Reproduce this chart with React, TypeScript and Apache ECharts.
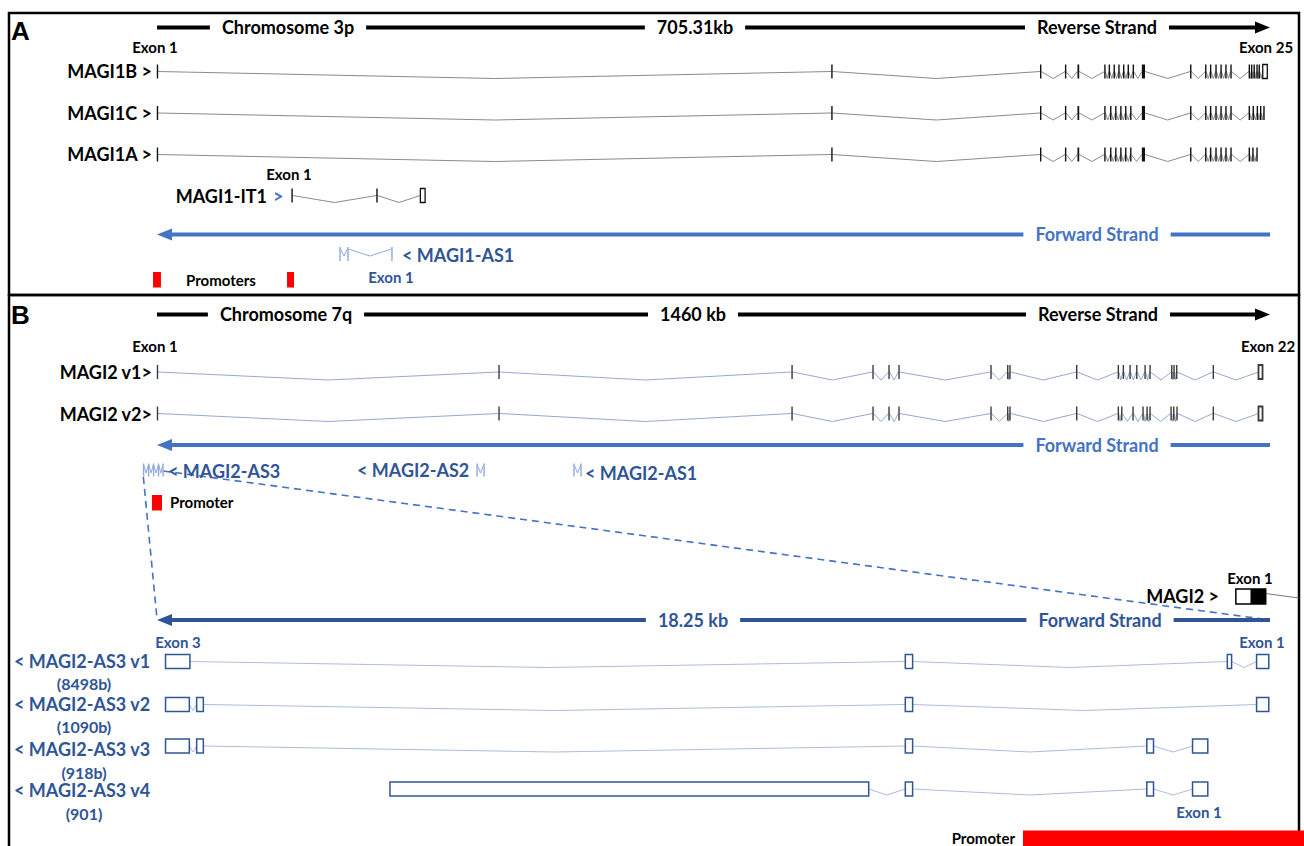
import React, { useEffect, useRef } from "react";
import * as echarts from "echarts";

// ================= DATA =================
// Panel A: Chromosome 3p window (positions in kb from window start)
const chromA = "Chromosome 3p";
const spanA = 705.31;
const spanALabel = "705.31kb";

const magi1bExons: number[][] = [
  [0, 0.6], [427.4, 428.0], [559.7, 560.3], [575.5, 576.1], [583.3, 584.4],
  [600.4, 601.0], [603.2, 603.8], [606.3, 606.9], [609.3, 609.9], [612.3, 612.9],
  [615.2, 615.8], [618.4, 619.0], [624.1, 626.1], [654.8, 655.4], [664.3, 664.9],
  [667.4, 668.0], [670.8, 671.4], [674.0, 674.6], [677.1, 677.7], [680.3, 680.9],
  [691.9, 692.5], [693.4, 694.0], [695.0, 695.6], [696.8, 697.4], [698.2, 698.8],
  [700.7, 703.6],
];
const magi1cExons: number[][] = [
  [0, 0.6], [427.4, 428.0], [559.7, 560.3], [575.5, 576.1], [583.3, 584.4],
  [600.4, 601.0], [604.1, 604.7], [607.3, 607.9], [610.5, 611.1], [613.6, 614.2],
  [616.8, 617.4], [624.1, 626.1], [654.8, 655.4], [664.3, 664.9],
  [667.4, 668.0], [670.8, 671.4], [674.0, 674.6], [677.1, 677.7], [680.3, 680.9],
  [691.9, 692.5], [694.4, 695.0], [697.0, 697.6], [699.1, 699.7], [701.2, 701.8],
];
const magi1aExons: number[][] = [
  [0, 0.6], [427.4, 428.0], [559.7, 560.3], [575.5, 576.1], [583.3, 584.4],
  [600.4, 601.0], [604.1, 604.7], [607.3, 607.9], [610.5, 611.1], [613.6, 614.2],
  [616.8, 617.4], [624.1, 626.1], [654.8, 655.4], [664.3, 664.9],
  [667.4, 668.0], [670.8, 671.4], [674.0, 674.6], [677.1, 677.7], [680.3, 680.9],
  [691.9, 692.5], [694.2, 694.8], [696.8, 697.4],
];
const magi1it1Exons: number[][] = [[85.3, 85.9], [139.1, 139.7], [166.9, 169.9]];
const magi1as1Exons: number[][] = [[115.7, 116.3], [120.7, 121.3], [148.6, 149.2]];
const promotersA: number[][] = [[-2.5, 2.5], [82.4, 86.8]];

// Panel B: Chromosome 7q window (kb)
const chromB = "Chromosome 7q";
const spanB = 1460;
const spanBLabel = "1460 kb";

const magi2v1Exons: number[][] = [
  [0, 1.3], [448, 449.3], [832.4, 833.7], [938.6, 939.9], [959.6, 960.9], [972.7, 974],
  [1093.4, 1094.7], [1115.3, 1116.6], [1118.3, 1119.6], [1205.8, 1207.1],
  [1260.4, 1261.7], [1267, 1268.3], [1275.8, 1277.1], [1284.6, 1285.9], [1295.5, 1296.8],
  [1302, 1303.3], [1330.5, 1331.8], [1333.5, 1334.8], [1337, 1338.3], [1385, 1386.3],
  [1444.9, 1450.2],
];
const magi2v2Exons: number[][] = [
  [0, 1.3], [448, 449.3], [832.4, 833.7], [938.6, 939.9], [959.6, 960.9], [972.7, 974],
  [1093.4, 1094.7], [1115.3, 1116.6], [1118.3, 1119.6], [1205.8, 1207.1],
  [1260.4, 1261.7], [1264.9, 1266.2], [1279.7, 1281], [1292.8, 1294.1], [1298.1, 1299.4],
  [1302, 1303.3], [1329.6, 1330.9], [1333.1, 1334.4], [1337.4, 1338.7], [1385, 1386.3],
  [1444.9, 1450.2],
];
const magi2as3Exons: number[][] = [[-17.9, -17.3], [-11.3, -10.7], [-4.8, -4.2], [1.7, 2.3], [7.6, 8.2]];
const magi2as2Exons: number[][] = [[419.5, 420.1], [428.7, 429.3]];
const magi2as1Exons: number[][] = [[546.7, 547.3], [555.9, 556.5]];
const promotersB: number[][] = [[-6.6, 6.6]];

// Zoomed MAGI2-AS3 locus (kb)
const spanZ = 18.25;
const spanZLabel = "18.25 kb";
const as3v1Exons: number[][] = [[0.14, 0.54], [12.27, 12.39], [17.55, 17.62], [18.03, 18.23]];
const as3v2Exons: number[][] = [[0.14, 0.53], [0.65, 0.76], [12.27, 12.39], [18.03, 18.23]];
const as3v3Exons: number[][] = [[0.14, 0.53], [0.65, 0.76], [12.27, 12.39], [16.23, 16.34], [16.98, 17.23]];
const as3v4Exons: number[][] = [[3.82, 11.67], [12.27, 12.39], [16.23, 16.34], [16.98, 17.23]];
const as3Names = ["< MAGI2-AS3 v1", "< MAGI2-AS3 v2", "< MAGI2-AS3 v3", "< MAGI2-AS3 v4"];
const as3Lengths = ["(8498b)", "(1090b)", "(918b)", "(901)"];
const magi2Exon1Utr = [17.69, 17.93];
const magi2Exon1Cds = [17.93, 18.18];
const magi2IntronTo = 18.72;
const promotersZ: number[][] = [[14.2, 18.85]];

// ================= STYLE / LAYOUT =================
const BLUE = "#4472C4";
const DBLUE = "#2F5597";
const LBLUE = "#8FAADC";
const RED = "#FF0000";
const FONT = "Lato";

type Sty = { exon: string; intron: string; h: number; dip: number; base: number; outline?: boolean; lw?: number };
const STY: Record<string, Sty> = {
  a: { exon: "#111", intron: "#8a8a8a", h: 14, dip: 7, base: 0 },
  aas: { exon: LBLUE, intron: LBLUE, h: 14, dip: 7, base: -5 },
  b: { exon: "#3a3a3a", intron: "#97A8CC", h: 14, dip: 8, base: 0, lw: 1.8 },
  bas: { exon: LBLUE, intron: LBLUE, h: 13, dip: 8, base: -5 },
  z: { exon: DBLUE, intron: "#AEBCD9", h: 14, dip: 6, base: 0, outline: true, lw: 1.5 },
};

const tracksA = [
  { exons: magi1bExons, y: 71.5, st: "a" },
  { exons: magi1cExons, y: 113, st: "a" },
  { exons: magi1aExons, y: 154.5, st: "a" },
  { exons: magi1it1Exons, y: 195.5, st: "a" },
  { exons: magi1as1Exons, y: 254, st: "aas" },
];
const tracksB = [
  { exons: magi2v1Exons, y: 372, st: "b" },
  { exons: magi2v2Exons, y: 413.5, st: "b" },
  { exons: magi2as3Exons, y: 470, st: "bas" },
  { exons: magi2as2Exons, y: 470, st: "bas" },
  { exons: magi2as1Exons, y: 470, st: "bas" },
];
const zRows = [661.5, 704.5, 746, 789];
const tracksZ = [as3v1Exons, as3v2Exons, as3v3Exons, as3v4Exons].map((exons, i) => ({ exons, y: zRows[i], st: "z" }));

function drawGene(api: any, exons: number[][], y: number, st: Sty) {
  const children: any[] = [];
  const p = (v: number) => api.coord([v, y]);
  for (let i = 0; i < exons.length - 1; i++) {
    const a = p(exons[i][1]);
    const b = p(exons[i + 1][0]);
    const by = a[1] + st.base;
    children.push({
      type: "polyline",
      shape: { points: [[a[0], by], [(a[0] + b[0]) / 2, by + st.dip], [b[0], by]] },
      style: { stroke: st.intron, lineWidth: 1, fill: "none" },
    });
  }
  for (const [s, e] of exons) {
    const a = p(s);
    const b = p(e);
    const w = b[0] - a[0];
    if (st.outline || w >= 4) {
      children.push({
        type: "rect",
        shape: { x: a[0], y: a[1] - st.h / 2, width: Math.max(w, 3), height: st.h },
        style: { fill: "#fff", stroke: st.exon, lineWidth: st.lw ?? 1.3 },
      });
    } else {
      const ww = Math.max(w, 1.4);
      children.push({
        type: "rect",
        shape: { x: a[0] - (ww - w) / 2, y: a[1] - st.h / 2, width: ww, height: st.h },
        style: { fill: st.exon },
      });
    }
  }
  return children;
}

function geneSeries(axis: number, tracks: { exons: number[][]; y: number; st: string }[]) {
  return {
    type: "custom",
    xAxisIndex: axis,
    yAxisIndex: axis,
    clip: false,
    silent: true,
    z: 3,
    data: tracks.map((t) => [t.exons[0][0], t.y]),
    renderItem: (params: any, api: any) => {
      const t = tracks[params.dataIndex];
      return { type: "group", children: drawGene(api, t.exons, t.y, STY[t.st]) };
    },
  };
}

// bar with arrow: dir 1 = arrow at right end, -1 = arrow at left end
function arrowBar(api: any, from: number, to: number, y: number, color: string, dir: number, lw = 4) {
  const a = api.coord([from, y]);
  const b = api.coord([to, y]);
  const L = 15;
  const H = 6;
  if (dir > 0) {
    return [
      { type: "line", shape: { x1: a[0], y1: a[1], x2: b[0] - L + 2, y2: b[1] }, style: { stroke: color, lineWidth: lw } },
      { type: "polygon", shape: { points: [[b[0], b[1]], [b[0] - L, b[1] - H], [b[0] - L, b[1] + H]] }, style: { fill: color } },
    ];
  }
  return [
    { type: "line", shape: { x1: a[0] + L - 2, y1: a[1], x2: b[0], y2: b[1] }, style: { stroke: color, lineWidth: lw } },
    { type: "polygon", shape: { points: [[a[0], a[1]], [a[0] + L, a[1] - H], [a[0] + L, a[1] + H]] }, style: { fill: color } },
  ];
}

function boxes(api: any, list: number[][], y0: number, y1: number, color: string) {
  return list.map(([s, e]) => {
    const a = api.coord([s, y0]);
    const b = api.coord([e, y1]);
    return { type: "rect", shape: { x: a[0], y: a[1], width: b[0] - a[0], height: b[1] - a[1] }, style: { fill: color } };
  });
}

function decorSeries(axis: number, draw: (api: any) => any[]) {
  return {
    type: "custom",
    xAxisIndex: axis,
    yAxisIndex: axis,
    clip: false,
    silent: true,
    z: 2,
    data: [[0, 0]],
    renderItem: (_p: any, api: any) => ({ type: "group", children: draw(api) }),
  };
}

function T(text: string, x: number, y: number, o: any = {}) {
  const align = o.align || "left";
  return {
    type: "text",
    x,
    y,
    z: o.bg ? 100 : 50,
    silent: true,
    style: {
      text,
      font: `bold ${o.size || 18}px ${o.family || FONT}`,
      fill: o.color || "#000",
      align,
      textAlign: align,
      verticalAlign: "middle",
      textVerticalAlign: "middle",
      ...(o.bg ? { backgroundColor: "#fff", padding: [2, o.pad ?? 12] } : {}),
    },
  };
}

const C = { align: "center" };
const texts = [
  // Panel A
  T("A", 11, 31, { size: 26, family: "'Liberation Sans'" }),
  T(chromA, 288, 27, { bg: true, ...C }),
  T(spanALabel, 695, 27, { bg: true, ...C }),
  T("Reverse Strand", 1097, 27, { bg: true, ...C }),
  T("Exon 1", 155, 47, { size: 15, ...C }),
  T("Exon 25", 1266, 47, { size: 15, ...C }),
  T("MAGI1B >", 152, 71, { align: "right" }),
  T("MAGI1C >", 152, 113, { align: "right" }),
  T("MAGI1A >", 152, 154, { align: "right" }),
  T("Exon 1", 289, 174, { size: 15, ...C }),
  T("MAGI1-IT1", 267, 196, { align: "right" }),
  T(">", 273, 196, { color: BLUE }),
  T("Forward Strand", 1097, 234, { bg: true, color: BLUE, ...C }),
  T("< MAGI1-AS1", 402, 255, { color: DBLUE }),
  T("Exon 1", 391, 277, { size: 15, color: DBLUE, ...C }),
  T("Promoters", 186, 280, { size: 15 }),
  // Panel B
  T("B", 11, 315, { size: 26, family: "'Liberation Sans'" }),
  T(chromB, 286, 314, { bg: true, ...C }),
  T(spanBLabel, 693, 314, { bg: true, ...C }),
  T("Reverse Strand", 1098, 314, { bg: true, ...C }),
  T("Exon 1", 155, 346, { size: 15, ...C }),
  T("Exon 22", 1268, 346, { size: 15, ...C }),
  T("MAGI2 v1>", 152, 372, { align: "right" }),
  T("MAGI2 v2>", 152, 414, { align: "right" }),
  T("Forward Strand", 1097, 445, { bg: true, color: BLUE, ...C }),
  T("< MAGI2-AS3", 168, 471, { color: DBLUE }),
  T("< MAGI2-AS2", 357, 470, { color: DBLUE }),
  T("< MAGI2-AS1", 585, 473, { color: DBLUE }),
  T("Promoter", 170, 502, { size: 15 }),
  T("Exon 1", 1250, 578, { size: 15, ...C }),
  T("MAGI2 >", 1219, 596, { align: "right" }),
  T(spanZLabel, 693, 620, { bg: true, color: DBLUE, ...C }),
  T("Forward Strand", 1100, 620, { bg: true, color: DBLUE, ...C }),
  T("Exon 3", 178, 642, { size: 15, color: DBLUE, ...C }),
  T("Exon 1", 1262, 642, { size: 15, color: DBLUE, ...C }),
  T("Exon 1", 1199, 812, { size: 15, color: DBLUE, ...C }),
  T("Promoter", 1015, 838, { size: 15, align: "right" }),
  ...as3Names.map((n, i) => T(n, 14, [661, 704, 749, 790][i], { color: DBLUE })),
  ...as3Lengths.map((n, i) => T(n, 84, [683, 726, 772, 813][i], { size: 16, color: DBLUE, ...C })),
];

const borders = [
  { type: "rect", z: 1, silent: true, shape: { x: 9, y: 13, width: 1290, height: 282 }, style: { fill: "none", stroke: "#000", lineWidth: 2.5 } },
  { type: "rect", z: 1, silent: true, shape: { x: 9, y: 295, width: 1290, height: 570 }, style: { fill: "none", stroke: "#000", lineWidth: 2.5 } },
];

export default function App() {
  const ref = useRef<HTMLDivElement>(null);
  useEffect(() => {
    if (!ref.current) return;
    const chart = echarts.init(ref.current, undefined, { renderer: "svg" });
    const gridCfg = { left: 157, right: 34, top: 0, bottom: 0, containLabel: false };
    chart.setOption({
      animation: false,
      backgroundColor: "#fff",
      grid: [gridCfg, gridCfg, gridCfg],
      xAxis: [spanA, spanB, spanZ].map((mx, i) => ({ gridIndex: i, type: "value", min: 0, max: mx, show: false })),
      yAxis: [0, 1, 2].map((i) => ({ gridIndex: i, type: "value", min: 0, max: 846, inverse: true, show: false })),
      graphic: { elements: [...borders, ...texts] },
      series: [
        decorSeries(0, (api) => [
          ...arrowBar(api, 0, spanA, 27.5, "#000", 1),
          ...arrowBar(api, 0, spanA, 234.5, BLUE, -1),
          ...boxes(api, promotersA, 272, 287.5, RED),
        ]),
        geneSeries(0, tracksA),
        decorSeries(1, (api) => {
          const as3s = magi2as3Exons[0][0];
          const as3e = magi2as3Exons[magi2as3Exons.length - 1][1];
          const a0 = api.coord([as3s, 477]);
          const a1 = api.coord([0, 619]);
          const b0 = api.coord([as3e, 471]);
          const b1 = api.coord([spanB, 620]);
          const dash = { stroke: BLUE, lineWidth: 1.6, lineDash: [7, 5] };
          return [
            ...arrowBar(api, 0, spanB, 314.5, "#000", 1),
            ...arrowBar(api, 0, spanB, 445, BLUE, -1),
            ...boxes(api, promotersB, 495, 510.5, RED),
            { type: "line", shape: { x1: a0[0], y1: a0[1], x2: a1[0], y2: a1[1] }, style: dash },
            { type: "line", shape: { x1: b0[0], y1: b0[1], x2: b1[0], y2: b1[1] }, style: dash },
          ];
        }),
        geneSeries(1, tracksB),
        decorSeries(2, (api) => {
          const u0 = api.coord([magi2Exon1Utr[0], 589]);
          const u1 = api.coord([magi2Exon1Utr[1], 604]);
          const c1 = api.coord([magi2Exon1Cds[1], 604]);
          const t0 = api.coord([magi2Exon1Cds[1], 593.5]);
          const t1 = api.coord([magi2IntronTo, 598]);
          return [
            ...arrowBar(api, 0, spanZ, 620, DBLUE, -1),
            ...boxes(api, promotersZ, 830.5, 847, RED),
            { type: "line", shape: { x1: t0[0], y1: t0[1], x2: t1[0], y2: t1[1] }, style: { stroke: "#777", lineWidth: 1 } },
            { type: "rect", shape: { x: u1[0], y: u0[1], width: c1[0] - u1[0], height: c1[1] - u0[1] }, style: { fill: "#000" } },
            { type: "rect", shape: { x: u0[0], y: u0[1], width: c1[0] - u0[0], height: c1[1] - u0[1] }, style: { fill: "none", stroke: "#000", lineWidth: 1.5 } },
          ];
        }),
        geneSeries(2, tracksZ),
      ],
    });
    return () => chart.dispose();
  }, []);
  return <div ref={ref} style={{ position: "fixed", left: 0, top: 0, width: 1304, height: 846 }} />;
}
